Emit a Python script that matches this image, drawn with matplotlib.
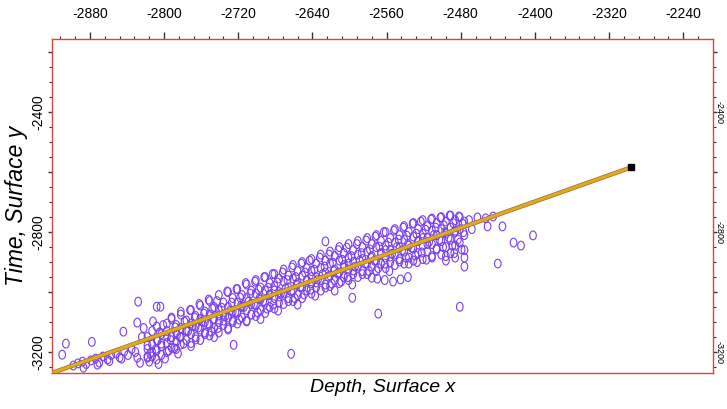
import numpy as np
import matplotlib.pyplot as plt
import matplotlib.patheffects as pe
from matplotlib.path import Path
from matplotlib.transforms import ScaledTranslation

# scatter data (depth x, time y)
depth = [
    -2910, -2906, -2878, -2844, -2829, -2828, -2808, -2804,
    -2829, -2826, -2818,
    -2898, -2893, -2888, -2884, -2879, -2874, -2870, -2866, -2861, -2857,
    -2852, -2848, -2843, -2839, -2835, -2831, -2887, -2872, -2859, -2846,
    -2818, -2818, -2818, -2813, -2813, -2813, -2808, -2808, -2808, -2808,
    -2803, -2803, -2803, -2797, -2797, -2797, -2797, -2792, -2792, -2792,
    -2787, -2787, -2787, -2787, -2782, -2782, -2782, -2782, -2776, -2776, -2776,
    -2771, -2771, -2771, -2771, -2766, -2766, -2766, -2761, -2761, -2761, -2761,
    -2756, -2756, -2756, -2751, -2751, -2751, -2751, -2746, -2746, -2746,
    -2741, -2741, -2741, -2741, -2736, -2736, -2736, -2731, -2731, -2731, -2731,
    -2726, -2726, -2726, -2721, -2721, -2721, -2721, -2716, -2716, -2716,
    -2711, -2711, -2711, -2711, -2706, -2706, -2706, -2701, -2701, -2701, -2701,
    -2696, -2696, -2696, -2691, -2691, -2691, -2691, -2686, -2686, -2686,
    -2681, -2681, -2681, -2681, -2676, -2676, -2676, -2671, -2671, -2671, -2671,
    -2666, -2666, -2666, -2661, -2661, -2661, -2661, -2656, -2656, -2656,
    -2651, -2651, -2651, -2651, -2646, -2646, -2646, -2641, -2641, -2641, -2641,
    -2636, -2636, -2636, -2631, -2631, -2631, -2631, -2626, -2626, -2626,
    -2621, -2621, -2621, -2621, -2616, -2616, -2616, -2611, -2611, -2611, -2611,
    -2606, -2606, -2606, -2601, -2601, -2601, -2601, -2596, -2596, -2596,
    -2591, -2591, -2591, -2591, -2586, -2586, -2586, -2581, -2581, -2581, -2581,
    -2576, -2576, -2576, -2571, -2571, -2571, -2571, -2566, -2566, -2566,
    -2561, -2561, -2561, -2561, -2556, -2556, -2556, -2551, -2551, -2551, -2551,
    -2546, -2546, -2546, -2541, -2541, -2541, -2541, -2536, -2536, -2536,
    -2531, -2531, -2531, -2531, -2526, -2526, -2526, -2521, -2521, -2521, -2521,
    -2516, -2516, -2516, -2511, -2511, -2511, -2511, -2506, -2506, -2506,
    -2501, -2501, -2501, -2501, -2496, -2496, -2496, -2496, -2491, -2491, -2491, -2491,
    -2486, -2486, -2486, -2486, -2481, -2481, -2481, -2476, -2476, -2476,
    -2462, -2453, -2445, -2451, -2435, -2402, -2423, -2415, -2440, -2476, -2481,
    -2626, -2597, -2663, -2725, -2569,
    -2570, -2562, -2553, -2545, -2537,
    -2822, -2818, -2815, -2824, -2816,
    -2812, -2807, -2809, -2805, -2813, -2806,
    -2801, -2797, -2803, -2795, -2799,
    -2792, -2788, -2786, -2793, -2789, -2785,
    -2782, -2778, -2776, -2783, -2779,
    -2772, -2767, -2769, -2774, -2766, -2771,
    -2762, -2757, -2759, -2763, -2756,
    -2752, -2748, -2747, -2753, -2749, -2746,
    -2743, -2738, -2741, -2736, -2742,
    -2732, -2727, -2729, -2734, -2726, -2731,
    -2722, -2718, -2717, -2723, -2719,
    -2712, -2707, -2709, -2714, -2706, -2711,
    -2702, -2698, -2697, -2703, -2699, -2696,
    -2692, -2688, -2686, -2693, -2689,
    -2683, -2678, -2681, -2676, -2682, -2677,
    -2672, -2667, -2669, -2674, -2666,
    -2662, -2658, -2657, -2663, -2659, -2656,
    -2652, -2648, -2646, -2653, -2649,
    -2643, -2638, -2641, -2636, -2642, -2637,
    -2632, -2627, -2629, -2634, -2626,
    -2622, -2618, -2617, -2623, -2619, -2616,
    -2612, -2608, -2606, -2613, -2609,
    -2603, -2598, -2601, -2596, -2602, -2597,
    -2592, -2587, -2589, -2594, -2586,
    -2582, -2578, -2577, -2583, -2579, -2576,
    -2572, -2568, -2566, -2573, -2569,
    -2563, -2558, -2561, -2556, -2562, -2557,
    -2552, -2547, -2549, -2554, -2546,
    -2542, -2538, -2537, -2543, -2539, -2536,
    -2532, -2528, -2526, -2533, -2529, -2527,
    -2523, -2518, -2521, -2516, -2522, -2517,
    -2512, -2507, -2509, -2514, -2506, -2511,
    -2502, -2498, -2497, -2503, -2499, -2496,
    -2492, -2488, -2486, -2493, -2489, -2487,
    -2482, -2478, -2477, -2483, -2479, -2476,
    -2471, -2468,
]
time = [
    -3209, -3172, -3166, -3132, -3102, -3032, -3049, -3049,
    -3219, -3236, -3219,
    -3245, -3238, -3232, -3240, -3228, -3222, -3235, -3215, -3225, -3210,
    -3205, -3218, -3198, -3210, -3190, -3200, -3252, -3242, -3230, -3222,
    -3150, -3190, -3215, -3130, -3175, -3200, -3115, -3160, -3195, -3225,
    -3140, -3180, -3210, -3105, -3130, -3170, -3200, -3090, -3150, -3185,
    -3110, -3135, -3165, -3190, -3075, -3120, -3150, -3175, -3095, -3130, -3160,
    -3060, -3105, -3140, -3170, -3080, -3115, -3150, -3045, -3090, -3125, -3160,
    -3065, -3100, -3135, -3030, -3075, -3110, -3145, -3050, -3090, -3120,
    -3010, -3060, -3100, -3135, -3035, -3075, -3110, -3000, -3050, -3085, -3120,
    -3020, -3065, -3095, -2990, -3035, -3070, -3105, -3010, -3050, -3085,
    -2975, -3020, -3060, -3095, -2995, -3040, -3075, -2960, -3005, -3045, -3080,
    -2985, -3025, -3060, -2950, -2995, -3035, -3070, -2970, -3010, -3050,
    -2940, -2980, -3020, -3055, -2955, -3000, -3035, -2925, -2965, -3005, -3040,
    -2945, -2985, -3020, -2910, -2955, -2995, -3030, -2930, -2970, -3010,
    -2900, -2945, -2985, -3020, -2920, -2960, -2995, -2890, -2930, -2970, -3005,
    -2905, -2950, -2985, -2875, -2920, -2960, -2995, -2895, -2935, -2975,
    -2865, -2905, -2945, -2980, -2880, -2925, -2960, -2850, -2895, -2935, -2970,
    -2870, -2910, -2950, -2840, -2885, -2925, -2960, -2860, -2900, -2940,
    -2830, -2875, -2915, -2950, -2850, -2890, -2930, -2820, -2865, -2905, -2940,
    -2840, -2880, -2915, -2810, -2850, -2895, -2930, -2830, -2870, -2905,
    -2800, -2845, -2885, -2920, -2820, -2860, -2900, -2790, -2835, -2875, -2910,
    -2810, -2850, -2890, -2780, -2825, -2865, -2905, -2800, -2845, -2885,
    -2770, -2815, -2855, -2895, -2790, -2830, -2870, -2760, -2805, -2845, -2890,
    -2780, -2820, -2865, -2755, -2795, -2840, -2880, -2770, -2810, -2855,
    -2750, -2790, -2830, -2875, -2765, -2805, -2850, -2895, -2745, -2785, -2825, -2870,
    -2760, -2800, -2845, -2885, -2750, -2790, -2835, -2765, -2810, -2860,
    -2751, -2754, -2748, -2781, -2781, -2811, -2835, -2845, -2905, -2915, -3049,
    -2831, -3019, -3206, -3176, -3072,
    -2955, -2960, -2965, -2958, -2950,
    -3120, -3178, -3205, -3150, -3232,
    -3098, -3162, -3190, -3135, -3215, -3240,
    -3110, -3148, -3172, -3195, -3222,
    -3085, -3118, -3142, -3160, -3188, -3205,
    -3066, -3099, -3128, -3150, -3172,
    -3060, -3085, -3112, -3130, -3158, -3180,
    -3040, -3072, -3098, -3118, -3140,
    -3025, -3055, -3090, -3105, -3132, -3150,
    -3030, -3052, -3078, -3095, -3120,
    -2998, -3035, -3062, -3080, -3100, -3125,
    -2990, -3018, -3045, -3066, -3092,
    -2970, -3005, -3032, -3050, -3075, -3098,
    -2965, -2992, -3020, -3040, -3068, -3090,
    -2950, -2985, -3008, -3030, -3055,
    -2940, -2968, -2995, -3015, -3040, -3062,
    -2935, -2960, -2988, -3005, -3030,
    -2918, -2950, -2975, -2998, -3020, -3042,
    -2905, -2935, -2962, -2982, -3008,
    -2895, -2925, -2950, -2968, -2992, -3012,
    -2885, -2915, -2940, -2958, -2985,
    -2875, -2902, -2930, -2948, -2972, -2995,
    -2860, -2892, -2918, -2938, -2965,
    -2852, -2880, -2905, -2928, -2950, -2975,
    -2840, -2870, -2895, -2915, -2940,
    -2828, -2858, -2885, -2905, -2930, -2952,
    -2815, -2848, -2872, -2895, -2920,
    -2800, -2835, -2860, -2882, -2905, -2930,
    -2795, -2825, -2850, -2872, -2898,
    -2785, -2812, -2840, -2860, -2885, -2905,
    -2772, -2805, -2830, -2852, -2878, -2900,
    -2765, -2792, -2820, -2840, -2868, -2892,
    -2758, -2785, -2810, -2832, -2858, -2885,
    -2752, -2778, -2800, -2825, -2850, -2880,
    -2745, -2770, -2795, -2818, -2845, -2870,
    -2748, -2772, -2800, -2825, -2858, -2885,
    -2760, -2790,
]

# fitted line end points
fit_x = [-2921, -2296]
fit_y = [-3270, -2584]

# axis ticks
x_ticks = list(range(-2880, -2239, 80))
y_ticks = list(range(-3200, -2199, 200))
y_labels = ['-3200', '', '-2800', '', '-2400', '']

plt.rcParams['font.family'] = ['Liberation Sans Narrow', 'Liberation Sans', 'DejaVu Sans']

fig = plt.figure(figsize=(7.27, 4.09), dpi=100)
ax = fig.add_axes([0.0715, 0.088, 0.909, 0.8166])

# tall ellipse marker
t = np.linspace(0, 2 * np.pi, 30)
ell = Path(np.column_stack([0.75 * np.cos(t), np.sin(t)]), closed=True)

ax.scatter(depth, time, marker=ell, s=40, facecolors='none',
           edgecolors='#7a3ff0', linewidths=0.8, zorder=2)

ax.plot(fit_x, fit_y, color='#e0a82a', lw=2.2, zorder=3, solid_capstyle='butt',
        path_effects=[pe.Stroke(linewidth=3.2, foreground='#9a7418'), pe.Normal()])
ax.plot(fit_x[1], fit_y[1], marker='s', color='black', ms=5, zorder=4)

ax.set_xlim(-2921, -2208)
ax.set_ylim(-3270, -2156)

for s in ax.spines.values():
    s.set_color('#d9443f')
    s.set_linewidth(1.0)

ax.xaxis.tick_top()
ax.set_xticks(x_ticks)
ax.set_xticklabels([str(v) for v in x_ticks])
ax.set_xticks(list(range(-2912, -2208, 16)), minor=True)
ax.tick_params(axis='x', which='major', direction='out', length=5, width=1,
               color='#333333', labelsize=10, pad=8)
ax.tick_params(axis='x', which='minor', direction='out', length=2.5, width=0.8,
               color='#333333')

ax.set_yticks(y_ticks)
ax.set_yticklabels(y_labels, rotation=90, va='center')
ax.set_yticks(list(range(-3250, -2156, 50)), minor=True)
ax.tick_params(axis='y', which='major', direction='out', length=3, width=1,
               color='#333333', labelsize=10, pad=2, right=True, labelright=True)
ax.tick_params(axis='y', which='minor', direction='out', length=2, width=0.8,
               color='#333333', right=True)
shift = ScaledTranslation(-5 / 100, 0, fig.dpi_scale_trans)
for tk in ax.yaxis.get_major_ticks():
    tk.label2.set_rotation(270)
    tk.label2.set_fontsize(6.5)
    tk.label2.set_transform(tk.label2.get_transform() + shift)

ax.set_xlabel('Depth, Surface x', fontsize=14, style='italic', labelpad=4)
ax.xaxis.set_label_position('bottom')
ax.set_ylabel('Time, Surface y', fontsize=16.5, style='italic', labelpad=2,
              family=['Liberation Sans', 'DejaVu Sans'])

plt.savefig('out.png', dpi=100)
plt.close()
